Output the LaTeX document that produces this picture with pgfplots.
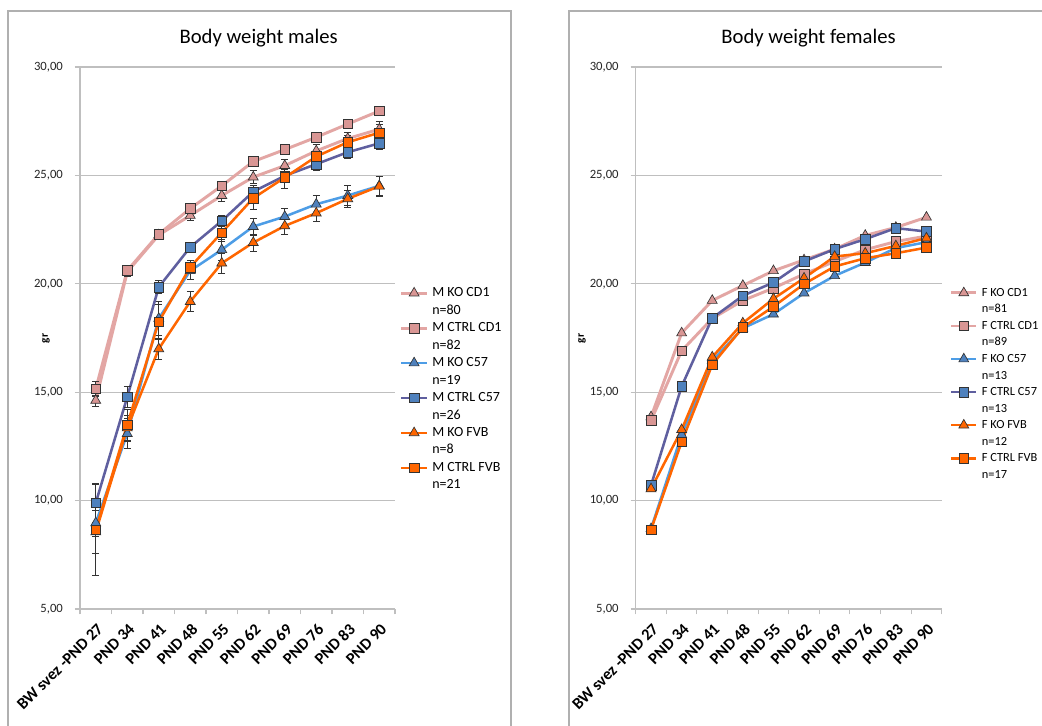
\documentclass[border=0pt]{standalone}
\usepackage{fontspec}
\setmainfont{Carlito}
\usepackage{pgfplots}
\usepackage{pgfplotstable}
\pgfplotsset{compat=1.18}

\definecolor{pinkline}{HTML}{E3A6A4}
\definecolor{pinkfill}{HTML}{D99694}
\definecolor{ltblue}{HTML}{4D9DE6}
\definecolor{bluefill}{HTML}{4F81BD}
\definecolor{purpline}{HTML}{5F5F9F}
\definecolor{orng}{HTML}{FF6600}
\definecolor{gridc}{HTML}{BFBFBF}
\definecolor{framec}{HTML}{B0B0B0}
\definecolor{edgec}{HTML}{333333}

% males: value and error for each series
\pgfplotstableread{
x kocd e1   ctcd e2   kocf e3   ctcf e4   kofv e5   ctfv e6
0 14.62 0.25 15.15 0.35 8.97 0.60 9.89 0.90 8.55 1.00 8.66 2.10
1 20.55 0.20 20.61 0.25 13.09 0.70 14.78 0.50 13.35 0.60 13.50 0.70
2 22.25 0.20 22.29 0.15 18.40 0.80 19.85 0.30 17.00 0.50 18.25 0.80
3 23.15 0.20 23.47 0.15 20.60 0.40 21.69 0.20 19.18 0.45 20.77 0.30
4 24.07 0.25 24.52 0.15 21.57 0.50 22.90 0.25 20.95 0.45 22.36 0.40
5 24.92 0.30 25.64 0.15 22.64 0.40 24.25 0.30 21.90 0.40 23.95 0.50
6 25.45 0.30 26.19 0.15 23.10 0.40 24.98 0.30 22.67 0.40 24.90 0.50
7 26.13 0.30 26.76 0.20 23.67 0.40 25.52 0.30 23.26 0.40 25.87 0.30
8 26.70 0.30 27.37 0.20 24.07 0.45 26.07 0.30 23.92 0.40 26.53 0.30
9 27.13 0.35 27.97 0.20 24.52 0.45 26.48 0.30 24.50 0.45 26.97 0.40
}\males

% females
\pgfplotstableread{
x kocd ctcd kocf ctcf kofv ctfv
0 13.86 13.69 8.70 10.71 10.54 8.66
1 17.73 16.91 13.04 15.27 13.27 12.71
2 19.23 18.40 16.45 18.42 16.62 16.27
3 19.92 19.23 17.95 19.45 18.19 17.99
4 20.60 19.80 18.60 20.06 19.31 18.95
5 21.10 20.45 19.57 21.03 20.26 19.99
6 21.60 21.03 20.37 21.60 21.26 20.80
7 22.23 21.57 20.98 22.06 21.41 21.18
8 22.60 21.95 21.65 22.57 21.75 21.41
9 23.07 22.20 21.92 22.41 22.11 21.67
}\females

\pgfplotsset{
  bwaxis/.style={
    scale only axis,
    anchor=south west,
    height=406.5pt,
    xmin=-0.5, xmax=9.5, ymin=5, ymax=30,
    axis x line*=bottom, axis y line*=left,
    axis line style={draw=gridc, line width=0.8pt, -},
    xtick={0,...,9},
    xticklabels={BW svez -PND 27, PND 34, PND 41, PND 48, PND 55, PND 62, PND 69, PND 76, PND 83, PND 90},
    minor xtick={-0.5,0.5,...,9.5},
    major x tick style={draw=none},
    minor x tick style={draw=gridc, line width=0.8pt},
    minor tick length=4pt,
    major tick length=3.8pt,
    tick align=outside,
    ytick={5,10,15,20,25,30},
    yticklabels={{5,00},{10,00},{15,00},{20,00},{25,00},{30,00}},
    ytick style={draw=gridc, line width=0.8pt},
    ymajorgrids,
    major grid style={draw=gridc, line width=0.8pt},
    yticklabel style={font=\fontsize{9.5}{11}\selectfont, text=black!85, xshift=-5.5pt},
    xticklabel style={font=\bfseries\fontsize{12.2}{14}\selectfont, rotate=45, anchor=east, inner sep=1pt, yshift=-9pt, xshift=-3pt},
    legend cell align=left,
    legend image code/.code={\draw[mark repeat=2, mark phase=2, ##1] plot coordinates {(0pt,0pt) (9.5pt,0pt) (19pt,0pt)};},
    legend style={draw=none, fill=none, anchor=north west,
      font=\fontsize{10.5}{12}\selectfont, row sep=3.6pt, inner sep=0pt,
      nodes={inner sep=0pt, text height=7.5pt, text depth=2pt},
      column sep=3pt},
    clip=false,
    every axis plot/.append style={line width=1.9pt},
  },
  kocd/.style={pinkline, line width=2.2pt, mark=triangle*, mark size=4.3pt,
    mark options={solid, fill=pinkfill, draw=edgec, line width=0.5pt}},
  ctcd/.style={pinkline, line width=2.2pt, mark=square*, mark size=3.6pt,
    mark options={solid, fill=pinkfill, draw=edgec, line width=0.5pt}},
  kocf/.style={ltblue, mark=triangle*, mark size=4.3pt,
    mark options={solid, fill=bluefill, draw=edgec, line width=0.5pt}},
  ctcf/.style={purpline, mark=square*, mark size=3.6pt,
    mark options={solid, fill=bluefill, draw=edgec, line width=0.5pt}},
  kofv/.style={orng, mark=triangle*, mark size=4.3pt,
    mark options={solid, fill=orng, draw=edgec, line width=0.5pt}},
  ctfv/.style={orng, mark=square*, mark size=3.6pt,
    mark options={solid, fill=orng, draw=edgec, line width=0.5pt}},
  ebar/.style={error bars/.cd, y dir=both, y explicit,
    error bar style={line width=0.5pt, black!80},
    error mark options={rotate=90, mark size=2.5pt, line width=0.5pt, black!80}},
}

\newcommand{\nline}[1]{\addlegendimage{empty legend}\addlegendentry{#1}}

\begin{document}
\begin{tikzpicture}[x=1pt,y=1pt]
\useasboundingbox (0,0) rectangle (781.5,543.75);
\fill[white] (0,0) rectangle (781.5,543.75);
\draw[framec, line width=0.8pt] (6,-3) -- (6,535.5) -- (383.25,535.5) -- (383.25,-3);
\draw[framec, line width=0.8pt] (426.75,-3) -- (426.75,535.5) -- (790,535.5);
\node[font=\fontsize{15.5}{18}\selectfont] at (194,515.25) {Body weight males};
\node[font=\fontsize{15.5}{18}\selectfont] at (606.4,515.25) {Body weight females};
\node[rotate=90, font=\bfseries\fontsize{8.5}{10}\selectfont] at (34.5,290) {gr};
\node[rotate=90, font=\bfseries\fontsize{8.5}{10}\selectfont] at (436.5,290) {gr};

\begin{axis}[bwaxis, at={(60pt,87pt)}, width=236.25pt,
  legend style={at={(1.015,0.595)}}]
\addplot[kocd, ebar] table[x=x, y=kocd, y error=e1] {\males};
\addlegendentry{M KO CD1}\nline{n=80}
\addplot[ctcd, ebar] table[x=x, y=ctcd, y error=e2] {\males};
\addlegendentry{M CTRL CD1}\nline{n=82}
\addplot[kocf, ebar] table[x=x, y=kocf, y error=e3] {\males};
\addlegendentry{M KO C57}\nline{n=19}
\addplot[ctcf, ebar] table[x=x, y=ctcf, y error=e4] {\males};
\addlegendentry{M CTRL C57}\nline{n=26}
\addplot[kofv, ebar] table[x=x, y=kofv, y error=e5] {\males};
\addlegendentry{M KO FVB}\nline{n=8}
\addplot[ctfv, ebar] table[x=x, y=ctfv, y error=e6] {\males};
\addlegendentry{M CTRL FVB}\nline{n=21}
\end{axis}

\begin{axis}[bwaxis, at={(476.8pt,87pt)}, width=229.5pt,
  legend style={at={(1.025,0.595)}, font=\fontsize{9.3}{11}\selectfont,
    row sep=3.2pt, nodes={text height=7.2pt, text depth=2pt}}]
\addplot[kocd] table[x=x, y=kocd] {\females};
\addlegendentry{F KO CD1}\nline{n=81}
\addplot[ctcd] table[x=x, y=ctcd] {\females};
\addlegendentry{F CTRL CD1}\nline{n=89}
\addplot[kocf] table[x=x, y=kocf] {\females};
\addlegendentry{F KO C57}\nline{n=13}
\addplot[ctcf] table[x=x, y=ctcf] {\females};
\addlegendentry{F CTRL C57}\nline{n=13}
\addplot[kofv] table[x=x, y=kofv] {\females};
\addlegendentry{F KO FVB}\nline{n=12}
\addplot[ctfv] table[x=x, y=ctfv] {\females};
\addlegendentry{F CTRL FVB}\nline{n=17}
\end{axis}
\end{tikzpicture}
\end{document}
